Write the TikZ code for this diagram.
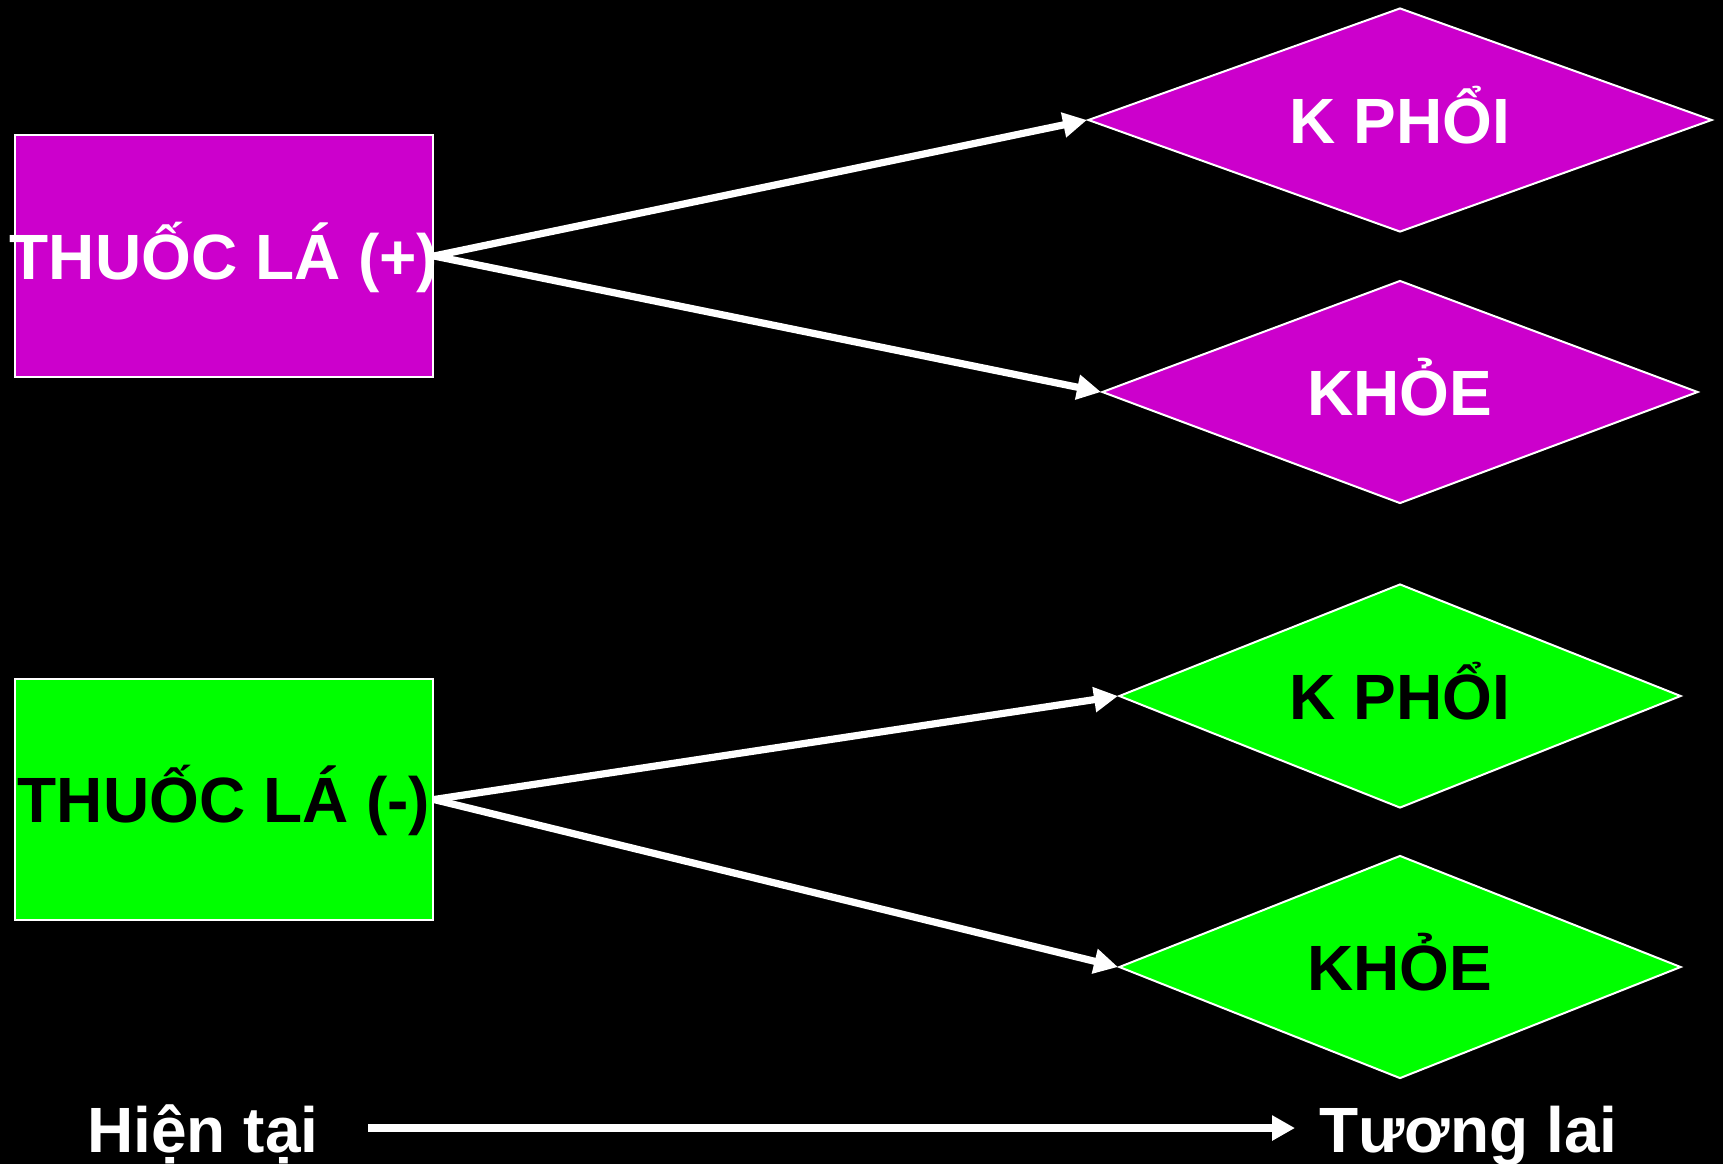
\documentclass[tikz,border=0pt]{standalone}
\usepackage{fontspec}
\setmainfont{Liberation Sans}
\usetikzlibrary{arrows.meta,shapes.geometric}
\definecolor{mag}{HTML}{CC00CC}
\definecolor{grn}{HTML}{00FF00}
\begin{document}
\begin{tikzpicture}[x=0.5pt,y=-0.5pt,
  big/.style={font=\fontsize{32}{38}\selectfont\bfseries},
  boxnode/.style={rectangle,draw=white,line width=1pt,minimum width=209pt,minimum height=121pt,inner sep=0pt,big,text height=23pt,text depth=0pt},
  dia/.style={diamond,draw=white,line width=1pt,inner sep=0pt,big,text height=23pt,text depth=0pt},
  conn/.style={draw=white,line width=3.6pt,-{Triangle[length=12pt,width=12pt]}},
  timeline/.style={draw=white,line width=4.25pt,-{Triangle[length=11.5pt,width=12pt]}},
  lbl/.style={big,text=white,inner sep=0pt,anchor=base west}
]
\fill[black] (0,0) rectangle (1723,1164);
\useasboundingbox (0,0) rectangle (1723,1164);

\node[boxnode,fill=mag,text=white] (r1) at (224,256) {\makebox[0pt]{THUỐC LÁ (+)}};
\node[boxnode,fill=grn,text=black,minimum height=120.5pt] (r2) at (224,799.5) {\makebox[0pt]{THUỐC LÁ (-)}};

\node[dia,fill=mag,text=white,minimum width=312pt,minimum height=112pt] (d1) at (1400,120) {\makebox[0pt]{K PHỔI}};
\node[dia,fill=mag,text=white,minimum width=298pt,minimum height=111.5pt] (d2) at (1400,392) {\makebox[0pt]{KHỎE}};
\node[dia,fill=grn,text=black,minimum width=281pt,minimum height=112pt] (d3) at (1400,696) {\makebox[0pt]{K PHỔI}};
\node[dia,fill=grn,text=black,minimum width=281pt,minimum height=111.5pt] (d4) at (1400,967) {\makebox[0pt]{KHỎE}};

\draw[conn] (r1.east) -- (d1.west);
\draw[conn] (r1.east) -- (d2.west);
\draw[conn] (r2.east) -- (d3.west);
\draw[conn] (r2.east) -- (d4.west);

\node[lbl] (hien) at (87,1152) {Hiện tại};
\node[lbl] (tuong) at (1319,1152) {Tương lai};
\coordinate (t0) at (368,1128);
\coordinate (t1) at (1295,1128);
\draw[timeline] (t0) -- (t1);
\end{tikzpicture}
\end{document}
